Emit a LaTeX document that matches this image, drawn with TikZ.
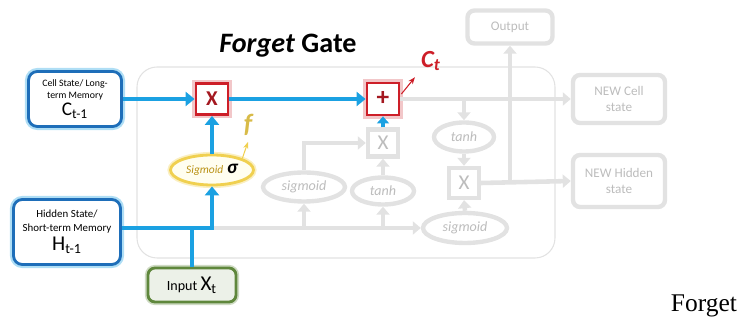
\documentclass[tikz,border=0pt]{standalone}
\usepackage{fontspec}
\setmainfont{Carlito}
\newfontfamily\capfont{Liberation Serif}
\usetikzlibrary{shapes.geometric,arrows.meta,positioning,calc}
\definecolor{cellblue}{RGB}{30,110,185}
\definecolor{flowblue}{RGB}{27,161,226}
\definecolor{gatered}{RGB}{205,30,40}
\definecolor{sigyellow}{RGB}{240,208,80}
\definecolor{sigtext}{RGB}{185,145,20}
\definecolor{inputgreen}{RGB}{95,135,60}
\definecolor{fadegray}{RGB}{226,226,226}
\definecolor{fadetext}{RGB}{188,188,188}

\begin{document}
\begin{tikzpicture}[
    x=0.02cm, y=-0.02cm,
    membox/.style={rectangle, rounded corners=5pt, draw=cellblue, line width=1.6pt, fill=white, align=center, inner sep=1pt, font=\fontsize{5.6}{6.8}\selectfont, preaction={draw=flowblue!35, line width=4pt}},
    gatebox/.style={rectangle, draw=gatered, line width=1.6pt, fill=white, minimum width=0.64cm, minimum height=0.62cm, text=gatered!80!black, font=\bfseries\large, preaction={draw=gatered!25, line width=4pt}},
    fadebox/.style={rectangle, rounded corners=4pt, draw=fadegray, line width=2.5pt, text=fadetext, align=center, font=\fontsize{7.5}{9}\selectfont},
    fadeoval/.style={ellipse, draw=fadegray, line width=2.5pt, text=fadetext, inner sep=0pt, font=\fontsize{8}{9}\selectfont\itshape},
    flow/.style={-{Triangle[length=1.8mm,width=2.8mm]}, flowblue, line width=2.8pt},
    fade/.style={-{Triangle[length=1.6mm,width=2.6mm]}, fadegray, line width=2.6pt},
]
\useasboundingbox (0,0) rectangle (741,323);
\draw[fadegray, line width=0.6pt, rounded corners=0.4cm] (137,67) rectangle (555,258);

\node[font=\fontsize{16}{18}\selectfont\bfseries] (title) at (288,46) {\textit{Forget} Gate};

\node[membox, minimum width=1.86cm, minimum height=1.1cm] (cell) at (75,99) {Cell State/ Long-\\term Memory\\[1pt]{\fontsize{11}{12}\selectfont C\textsubscript{t-1}}};
\node[membox, minimum width=2.14cm, minimum height=1.3cm, font=\fontsize{6.2}{7.8}\selectfont] (hid) at (67,232) {Hidden State/\\Short-term Memory\\[1pt]{\fontsize{12}{13}\selectfont H\textsubscript{t-1}}};
\node[rectangle, rounded corners=4pt, draw=inputgreen, line width=1.6pt, fill=inputgreen!12, minimum width=1.76cm, minimum height=0.68cm, font=\fontsize{8}{9}\selectfont, preaction={draw=inputgreen!30, line width=3.5pt}] (inp) at (192,285) {Input {\fontsize{12}{13}\selectfont X\textsubscript{t}}};

\node[gatebox] (mulf) at (212,99) {X};
\node[gatebox, minimum width=0.64cm, minimum height=0.64cm, font=\bfseries\Large] (addc) at (383,99) {+};
\node[ellipse, draw=sigyellow, line width=1.6pt, fill=yellow!6, minimum width=1.66cm, minimum height=0.6cm, inner sep=0pt, preaction={draw=sigyellow!35, line width=3.5pt}] (sigf) at (212,170) {{\fontsize{6.5}{8}\selectfont\itshape\color{sigtext}Sigmoid} {\fontsize{11}{12}\selectfont\bfseries\itshape σ}};
\node[text=gatered, font=\fontsize{14}{15}\selectfont\bfseries\itshape] (ct) at (431,61) {C\textsubscript{t}};
\node[text=sigyellow!90!black, font=\fontsize{15}{16}\selectfont\bfseries\itshape] (flab) at (248,125) {f};

\node[fadeoval, minimum width=1.64cm, minimum height=0.58cm] (sig2) at (304,187) {sigmoid};
\node[fadeoval, minimum width=1.24cm, minimum height=0.54cm] (tanh1) at (383,191) {tanh};
\node[fadebox, rounded corners=0pt, minimum width=0.6cm, minimum height=0.54cm, font=\large] (mul2) at (383,143) {X};
\node[fadeoval, minimum width=1.2cm, minimum height=0.58cm] (tanh2) at (464,137) {tanh};
\node[fadebox, rounded corners=0pt, minimum width=0.6cm, minimum height=0.6cm, font=\large] (mul3) at (464,183) {X};
\node[fadeoval, minimum width=1.68cm, minimum height=0.6cm] (sig3) at (465,228) {sigmoid};
\node[fadebox, minimum width=1.7cm, minimum height=0.66cm] (out) at (510,27) {Output};
\node[fadebox, minimum width=1.84cm, minimum height=0.96cm] (newc) at (619,99) {NEW Cell\\state};
\node[fadebox, minimum width=1.84cm, minimum height=1.04cm] (newh) at (619,181) {NEW Hidden\\state};

\coordinate (jn) at (212,228);
\draw[fade] (jn) -- (sig3.west);
\draw[fade] (sig2.south |- jn) -- (sig2.south);
\draw[fade] (tanh1.south |- jn) -- (tanh1.south);
\draw[fade] (sig2.north) |- (mul2.west);
\draw[fade] (tanh1.north) -- (mul2.south);
\draw[fade] (addc.east) -- (newc.west);
\draw[fade] (tanh2.north |- addc) -- (tanh2.north);
\draw[fade] (tanh2.south) -- (mul3.north);
\draw[fade] (sig3.north) -- (mul3.south);
\draw[fade] (mul3.east) -- (newh.west);
\draw[fade] (out.south |- mul3) -- (out.south);

\draw[flow] (cell.east) -- (mulf.west);
\draw[flow] (mulf.east) -- (addc.west);
\draw[flow] (sigf.north) -- (mulf.south);
\draw[flow] (hid.east |- jn) -| (sigf.south);
\draw[flowblue, line width=2.8pt] (inp.north) -- (inp.north |- jn);
\draw[flow, -{Triangle[length=1.4mm,width=2.4mm]}] (mul2.north) -- (addc.south);
\draw[-{Stealth[length=1.4mm]}, gatered, line width=0.6pt] ($(addc.east)+(1,-5)$) -- (ct.south west);
\draw[-{Stealth[length=1.4mm]}, sigyellow, line width=0.6pt] (sigf.north east) -- (flab.south);

\node[font=\capfont\fontsize{14.5}{16}\selectfont] (cap) at (704,306) {Forget};
\end{tikzpicture}
\end{document}
